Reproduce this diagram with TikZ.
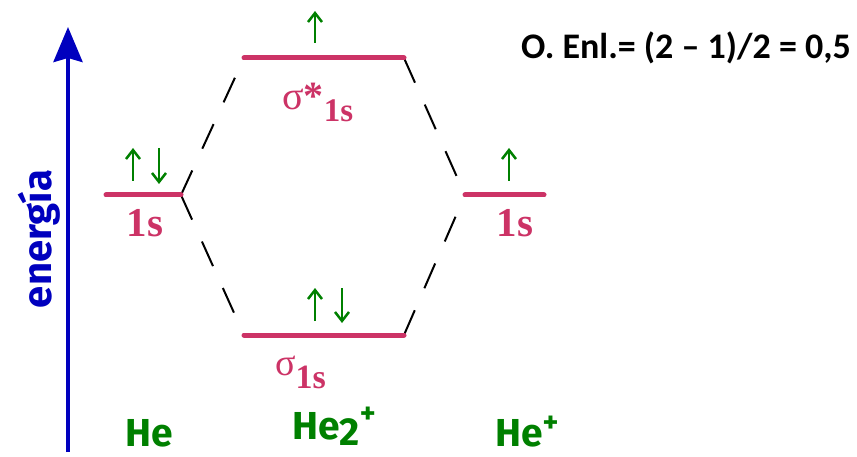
\documentclass[tikz,border=0pt]{standalone}
\usepackage{fontspec}
\setmainfont{Liberation Serif}
\newfontfamily\labelfont{Fira Sans}
\newfontfamily\formulafont{Carlito}
\usetikzlibrary{arrows.meta}
\definecolor{mopink}{RGB}{204,51,102}
\definecolor{spingreen}{RGB}{0,128,0}
\definecolor{enblue}{RGB}{0,0,190}
\tikzset{
  level/.style={draw=mopink, line width=5pt, line cap=round},
  corr/.style={draw=black, line width=2pt, dash pattern=on 27pt off 24pt},
  spin/.style={draw=spingreen, line width=2.5pt, -{Straight Barb[length=9pt,width=14pt]}},
  orbl/.style={text=mopink, inner sep=0pt, font=\bfseries\fontsize{41}{41}\selectfont},
  atoml/.style={text=spingreen, inner sep=0pt, font=\labelfont\bfseries\fontsize{39}{39}\selectfont},
}
\begin{document}
\begin{tikzpicture}[x=1pt,y=-1pt]
\useasboundingbox (0,0) rectangle (857,457);
% energy axis
\coordinate (axB) at (68,452);
\coordinate (axT) at (68,27);
\draw[enblue, line width=4pt, -{Stealth[length=35pt,width=29pt,inset=4pt]}] (axB) -- (axT);
\node[rotate=90, anchor=base, inner sep=0pt, text=enblue, font=\labelfont\bfseries\fontsize{40}{40}\selectfont] (en) at (51,239) {energía};
% level end points
\coordinate (HeL) at (106,195); \coordinate (HeR) at (181,195);
\coordinate (SsL) at (244,58);  \coordinate (SsR) at (404,58);
\coordinate (SL) at (244,335);  \coordinate (SR) at (404,335);
\coordinate (HpL) at (465,195); \coordinate (HpR) at (544,195);
% correlation lines
\draw[corr] (HeR) -- (SsL);
\draw[corr] (HeR) -- (SL);
\draw[corr] (SsR) -- (HpL);
\draw[corr] (SR) -- (HpL);
% levels
\draw[level] (HeL) -- (HeR);
\draw[level] (SsL) -- (SsR);
\draw[level] (SL) -- (SR);
\draw[level] (HpL) -- (HpR);
% electrons
\draw[spin] (133,181) -- (133,148);
\draw[spin] (159,148) -- (159,184);
\draw[spin] (315,43) -- (315,11);
\draw[spin] (315,321) -- (315,288);
\draw[spin] (342,288) -- (342,323);
\draw[spin] (509,181) -- (509,148);
% orbital labels
\node[orbl, anchor=base] (he1s) at (145,237) {1s};
\node[orbl, anchor=base] (hp1s) at (515,237) {1s};
\node[anchor=base west, inner sep=0pt, text=mopink] (sslab) at (282,110)
  {\fontsize{40}{40}\selectfont σ{\bfseries *}\raisebox{-12pt}{\bfseries\fontsize{33}{33}\selectfont 1s}};
\node[anchor=base west, inner sep=0pt, text=mopink] (slab) at (275,375)
  {\fontsize{38}{38}\selectfont σ\raisebox{-13pt}{\bfseries\fontsize{34}{34}\selectfont 1s}};
% atom labels
\node[atoml, anchor=base] (he) at (149,446) {He};
\node[atoml, anchor=base west] (he2) at (292,439) {He\raisebox{-6pt}{2}\raisebox{16pt}{\fontsize{30}{30}\selectfont +}};
\node[atoml, anchor=base west] (hep) at (495,446) {He\raisebox{14pt}{\fontsize{30}{30}\selectfont +}};
% bond order
\node[anchor=base east, inner sep=0pt, font=\formulafont\bfseries\fontsize{36}{36}\selectfont] (bo) at (851,59) {O. Enl.= (2 – 1)/2 = 0,5};
\end{tikzpicture}
\end{document}
